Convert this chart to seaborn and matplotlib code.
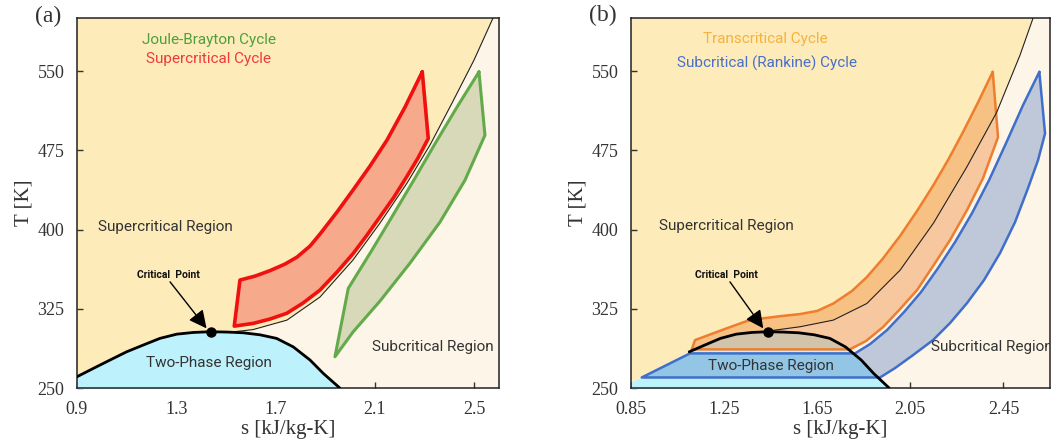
import matplotlib
matplotlib.use("Agg")
import matplotlib.pyplot as plt
import seaborn as sns
import pandas as pd

# ---- data -------------------------------------------------------------
# saturation dome (both panels)
dome_s = [0.85, 0.9, 0.966, 1.033, 1.1, 1.167, 1.234, 1.302, 1.368, 1.436,
          1.503, 1.57, 1.637, 1.704, 1.771, 1.839, 1.892, 1.959]
dome_T = [256.0, 260.7, 268.6, 276.5, 284.3, 290.7, 297.0, 301.0, 302.6, 303.3,
          303.0, 302.3, 300.4, 297.0, 289.0, 276.5, 263.9, 250.0]
crit_s, crit_T = 1.44, 303.3

# critical isobar, panel (a)
iso_a_s = [1.4385, 1.5364, 1.6089, 1.7459, 1.8788, 2.0117, 2.1205, 2.2292,
           2.3219, 2.4105, 2.4991, 2.5756]
iso_a_T = [303.0, 303.4, 305.3, 314.3, 336.1, 371.1, 406.1, 443.9,
           479.9, 519.6, 560.3, 600.0]

# critical isobar, panel (b)
iso_b_s = [1.44, 1.576, 1.719, 1.863, 2.006, 2.149, 2.292, 2.421, 2.521, 2.577]
iso_b_T = [304.0, 308.0, 314.3, 330.0, 361.6, 406.0, 459.0, 511.0, 565.0, 600.0]

# supercritical cycle (a): top, right, lower edge, left side, upper edge
sc_s = [2.2909, 2.3150, 2.2735, 2.2280, 2.1769, 2.1205, 2.0681, 2.0129, 1.9473,
        1.8788, 1.8103, 1.7447, 1.6774, 1.6101, 1.5336,
        1.5566, 1.6170, 1.6774, 1.7378, 1.7862, 1.8385, 1.8788, 1.9473, 2.0117,
        2.0802, 2.1487, 2.2212, 2.2909]
sc_T = [549.2, 486.2, 467.6, 449.9, 430.7, 412.0, 394.7, 377.4, 359.7,
        342.7, 330.4, 320.7, 315.3, 311.2, 308.6,
        352.2, 355.9, 361.1, 367.3, 373.9, 384.3, 395.7, 416.5, 437.3,
        460.0, 484.6, 515.8, 549.2]

# Joule-Brayton cycle (a)
jb_s = [2.5193, 2.5434, 2.4629, 2.3621, 2.2413, 2.1205, 2.0117, 1.9392,
        1.9928, 2.0882, 2.1728, 2.2614, 2.3460, 2.4306, 2.5193]
jb_T = [549.2, 489.3, 446.7, 407.0, 368.2, 332.3, 303.0, 279.6,
        344.3, 380.5, 413.6, 448.6, 482.7, 515.8, 549.2]

# transcritical cycle (b)
tc_s = [2.4039, 2.4266, 2.3622, 2.2934, 2.2204, 2.1474, 2.0787, 2.0056, 1.9326,
        1.8596, 1.79, 1.111, 1.125, 1.236, 1.347, 1.418, 1.49, 1.576, 1.65,
        1.719, 1.80, 1.863, 1.93, 2.006, 2.08, 2.149, 2.215, 2.278, 2.34, 2.4039]
tc_T = [549.2, 487.4, 448.6, 418.4, 390.0, 365.4, 342.7, 324.7, 307.7,
        294.5, 286.6, 286.6, 295.4, 304.5, 313.4, 316.0, 318.0, 320.0, 323.0,
        330.0, 342.0, 355.0, 372.0, 394.0, 418.0, 442.0, 467.0, 493.0, 520.0, 549.2]

# subcritical (Rankine) cycle (b)
rk_s = [2.6041, 2.6286, 2.5985, 2.5555, 2.4997, 2.4352, 2.3665, 2.2934, 2.2204,
        2.1474, 2.0615, 1.9841, 1.9197, 0.896, 1.103,
        1.8123, 1.8767, 1.9498, 2.0228, 2.0958, 2.1689, 2.2419, 2.3149, 2.3880,
        2.4610, 2.5340, 2.6041]
rk_T = [549.2, 490.9, 465.7, 439.2, 407.0, 377.7, 352.2, 330.4, 311.5,
        295.4, 281.2, 268.9, 260.0, 260.0, 282.8,
        282.8, 291.6, 304.9, 321.9, 340.8, 363.5, 388.1, 415.5, 446.7,
        481.7, 517.7, 549.2]

x_ticks_a = [0.9, 1.3, 1.7, 2.1, 2.5]
x_ticks_b = [0.85, 1.25, 1.65, 2.05, 2.45]
y_ticks = [250, 325, 400, 475, 550]

# ---- style ------------------------------------------------------------
sns.set_theme(style="ticks")
plt.rcParams["font.family"] = ["Roboto", "DejaVu Sans"]
plt.rcParams["lines.solid_joinstyle"] = "round"

C_SUPER = "#FDEBB9"
C_SUB = "#FDF5E8"
C_TWO = "#BDF1FB"
TXT = "#333333"
SERIF = "Liberation Serif"
FS = 11

fig = plt.figure(figsize=(10.57, 4.44), dpi=100)
ax_a = fig.add_axes([0.0728, 0.126, 0.3993, 0.833])
ax_b = fig.add_axes([0.597, 0.126, 0.3964, 0.833])


def line(ax, s, T, color, lw, z):
    df = pd.DataFrame({"s": s, "T": T})
    sns.lineplot(data=df, x="s", y="T", sort=False, estimator=None,
                 color=color, linewidth=lw, ax=ax, zorder=z)


def base_diagram(ax, xmin, xmax, iso_s, iso_T, ticks, dome_from):
    ax.set_xlim(xmin, xmax)
    ax.set_ylim(250, 600)
    ax.set_facecolor(C_SUB)
    # supercritical region: bounded by the dome up to the critical point
    # and by the critical isobar above it
    left_s = [s for s in dome_s if s <= crit_s]
    left_T = [t for s, t in zip(dome_s, dome_T) if s <= crit_s]
    poly_s = [xmin - 0.1, xmin - 0.1] + left_s + iso_s + [xmin - 0.1]
    poly_T = [240, left_T[0]] + left_T + iso_T + [610]
    ax.fill(poly_s, poly_T, color=C_SUPER, lw=0, zorder=0)
    # two-phase region
    ax.fill_between(dome_s, 240, dome_T, color=C_TWO, lw=0, zorder=1)
    vis_s = [s for s in dome_s if s >= dome_from]
    vis_T = [t for s, t in zip(dome_s, dome_T) if s >= dome_from]
    line(ax, vis_s, vis_T, "black", 2.0, 6)
    line(ax, iso_s, iso_T, "#222222", 0.8, 5)
    ax.plot([crit_s], [crit_T], "o", color="black", ms=6.5, zorder=8)

    ax.set_xticks(ticks)
    ax.set_xticklabels([f"{t:g}" for t in ticks])
    ax.set_yticks(y_ticks)
    ax.tick_params(direction="in", length=4, width=1, color="#333333",
                   labelsize=13, labelcolor=TXT, pad=9,
                   top=False, right=False)
    for lab in ax.get_xticklabels() + ax.get_yticklabels():
        lab.set_fontfamily(SERIF)
    for sp in ax.spines.values():
        sp.set_visible(True)
        sp.set_color("#222222")
        sp.set_linewidth(1.1)
    ax.set_xlabel("s [kJ/kg-K]", fontfamily=SERIF, fontsize=15, color=TXT, labelpad=2)
    ax.set_ylabel("T [K]", fontfamily=SERIF, fontsize=15, color=TXT, labelpad=3)
    ax.grid(False)


def cycle(ax, s, T, edge, face, lw, alpha=1.0, z=3):
    ax.fill(s, T, color=face, alpha=alpha, lw=0, zorder=z)
    line(ax, s, T, edge, lw, z + 0.5)


def crit_label(ax, tx, ty, ax_s, ax_T, tip_s, tip_T):
    ax.text(tx, ty, "Critical  Point", fontsize=7.5, fontweight="bold",
            color="#111111", ha="center", va="center", zorder=9)
    ax.annotate("", xy=(tip_s, tip_T), xytext=(ax_s, ax_T),
                arrowprops=dict(arrowstyle="-|>,head_length=0.9,head_width=0.45",
                                color="black", lw=1.0, shrinkA=0, shrinkB=0),
                zorder=9)


# ---- panel (a) --------------------------------------------------------
base_diagram(ax_a, 0.9, 2.6, iso_a_s, iso_a_T, x_ticks_a, 0.0)
cycle(ax_a, sc_s, sc_T, "#F01010", "#F7A98C", 2.6)
cycle(ax_a, jb_s, jb_T, "#63AA4B", "#D8D9B9", 2.2)
crit_label(ax_a, 1.27, 357, 1.275, 350.5, 1.422, 306.5)
ax_a.text(1.43, 579, "Joule-Brayton Cycle", color="#4E9F3D", fontsize=FS,
          ha="center", va="center")
ax_a.text(1.43, 561, "Supercritical Cycle", color="#EE3B3B", fontsize=FS,
          ha="center", va="center")
ax_a.text(1.258, 402, "Supercritical Region", color=TXT, fontsize=FS,
          ha="center", va="center", zorder=9)
ax_a.text(1.432, 273.6, "Two-Phase Region", color=TXT, fontsize=FS,
          ha="center", va="center", zorder=9)
ax_a.text(2.332, 289, "Subcritical Region", color=TXT, fontsize=FS,
          ha="center", va="center", zorder=9)

# ---- panel (b) --------------------------------------------------------
base_diagram(ax_b, 0.85, 2.65, iso_b_s, iso_b_T, x_ticks_b, 1.1)
cycle(ax_b, rk_s, rk_T, "#3F6FCB", "#3C6AB8", 1.8, alpha=0.32, z=3)
cycle(ax_b, tc_s, tc_T, "#EE7D2E", "#F08232", 1.8, alpha=0.4, z=4)
crit_label(ax_b, 1.261, 357, 1.275, 350.5, 1.418, 306.5)
ax_b.text(1.428, 580.7, "Transcritical Cycle", color="#F6B13F", fontsize=FS,
          ha="center", va="center")
ax_b.text(1.436, 557.7, "Subcritical (Rankine) Cycle", color="#4A6FC9", fontsize=FS,
          ha="center", va="center")
ax_b.text(1.258, 403, "Supercritical Region", color=TXT, fontsize=FS,
          ha="center", va="center", zorder=9)
ax_b.text(1.451, 270.8, "Two-Phase Region", color=TXT, fontsize=FS,
          ha="center", va="center", zorder=9)
ax_b.text(2.40, 289, "Subcritical Region", color=TXT, fontsize=FS,
          ha="center", va="center", zorder=9, clip_on=True)

fig.text(0.0454, 0.962, "(a)", fontfamily=SERIF, fontsize=17, color=TXT,
         ha="center", va="center")
fig.text(0.5705, 0.966, "(b)", fontfamily=SERIF, fontsize=17, color=TXT,
         ha="center", va="center")

fig.savefig("out.png", dpi=100)
